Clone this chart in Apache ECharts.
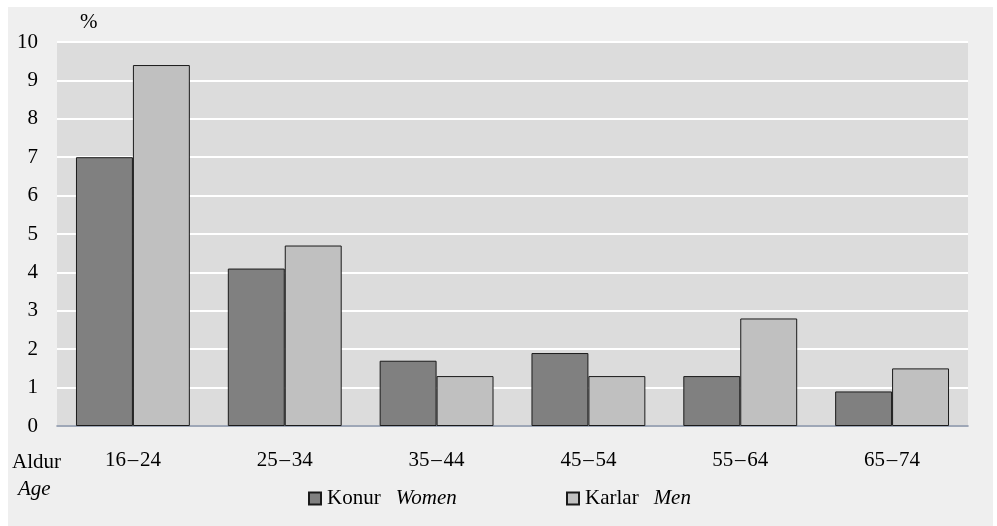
<!DOCTYPE html>
<html>
<head>
<meta charset="utf-8">
<script src="https://cdn.jsdelivr.net/npm/echarts@6/dist/echarts.min.js"></script>
<style>
  html, body { margin: 0; padding: 0; background: #ffffff; }
  #chart { position: absolute; left: 8px; top: 7px; width: 985px; height: 519px; background: #efefef; }
</style>
</head>
<body>
<div id="chart"></div>
<script>
const categories = ['16\u201324', '25\u201334', '35\u201344', '45\u201354', '55\u201364', '65\u201374'];
const womenValues = [7.0, 4.1, 1.7, 1.9, 1.3, 0.9];
const menValues = [9.4, 4.7, 1.3, 1.3, 2.8, 1.5];
const yTicks = { min: 0, max: 10, interval: 1 };
const seriesNames = { women: ['Konur', 'Women'], men: ['Karlar', 'Men'] };

const FONT = 'Liberation Serif';
const chart = echarts.init(document.getElementById('chart'), null, { renderer: 'canvas' });

function legendFmt(name) {
  const en = name === seriesNames.women[0] ? seriesNames.women[1] : seriesNames.men[1];
  return '{a|' + name + '}{b|' + en + '}';
}
const legendRich = {
  a: { fontFamily: FONT, fontSize: 21, color: '#000', padding: [0, 0, 0, 1] },
  b: { fontFamily: FONT, fontSize: 21, color: '#000', fontStyle: 'italic', padding: [0, 0, 0, 15] }
};

chart.setOption({
  backgroundColor: 'transparent',
  animation: false,
  textStyle: { fontFamily: FONT },
  grid: { left: 49, right: 25, top: 35, bottom: 100, show: true, backgroundColor: '#dcdcdc', borderWidth: 0 },
  legend: [
    { data: [{ name: seriesNames.women[0], icon: 'rect' }], left: 295, top: 476, itemWidth: 12, itemHeight: 12, formatter: legendFmt, textStyle: { rich: legendRich } },
    { data: [{ name: seriesNames.men[0], icon: 'rect' }], left: 553, top: 476, itemWidth: 12, itemHeight: 12, formatter: legendFmt, textStyle: { rich: legendRich } }
  ],
  xAxis: {
    type: 'category',
    data: categories,
    axisTick: { show: false },
    axisLine: { show: true, lineStyle: { color: '#7f8aa0', width: 1.5 } },
    axisLabel: {
      fontFamily: FONT, fontSize: 21, color: '#000', margin: 24,
      formatter: function (v) { return v.replace('\u2013', '\u200a\u2013\u200a'); }
    }
  },
  yAxis: {
    type: 'value',
    min: yTicks.min, max: yTicks.max, interval: yTicks.interval,
    axisLine: { show: false },
    axisTick: { show: false },
    axisLabel: { fontFamily: FONT, fontSize: 21, color: '#000', margin: 19 },
    splitLine: { show: true, lineStyle: { color: '#ffffff', width: 2 } }
  },
  graphic: [
    { type: 'text', left: 72, top: 5, style: { text: '%', font: '21px "Liberation Serif"', fill: '#000' } },
    { type: 'text', left: 4, top: 445, style: { text: 'Aldur', font: '21px "Liberation Serif"', fill: '#000' } },
    { type: 'text', left: 10, top: 472, style: { text: 'Age', font: 'italic 21px "Liberation Serif"', fill: '#000' } }
  ],
  series: [
    {
      name: seriesNames.women[0], type: 'bar', data: womenValues,
      barGap: '0%', barCategoryGap: '25%',
      itemStyle: { color: '#808080', borderColor: '#1a1a1a', borderWidth: 1 }
    },
    {
      name: seriesNames.men[0], type: 'bar', data: menValues,
      barGap: '0%', barCategoryGap: '25%',
      itemStyle: { color: '#c0c0c0', borderColor: '#1a1a1a', borderWidth: 1 }
    }
  ]
});
</script>
</body>
</html>
